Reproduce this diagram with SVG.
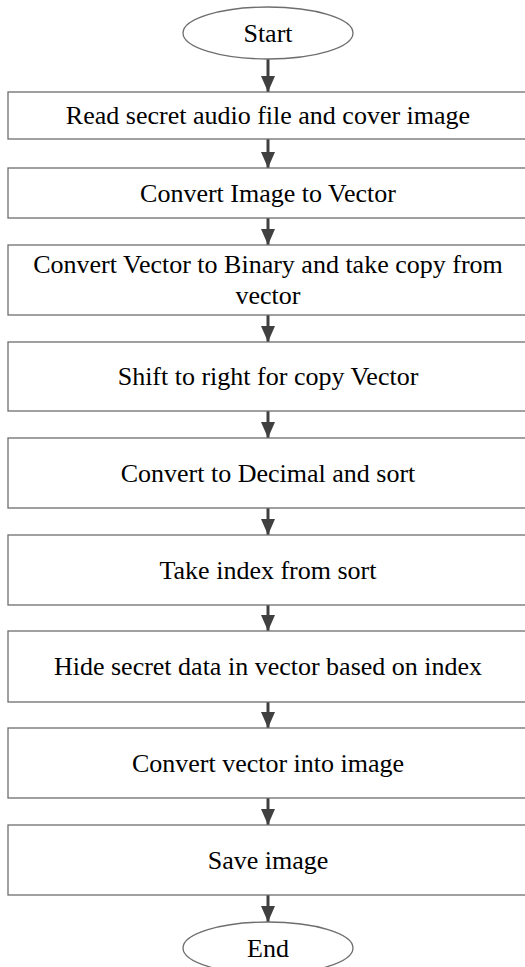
<svg xmlns="http://www.w3.org/2000/svg" width="525" height="967" viewBox="0 0 525 967">
<defs>
<style>
.box{fill:#fff;stroke:#6e6e6e;stroke-width:1.3}
.t{font-family:"Liberation Serif","Times New Roman",serif;font-size:26px;fill:#000;text-anchor:middle}
.c{stroke:#404040;stroke-width:3;fill:none}
</style>
<marker id="a2" markerWidth="16" markerHeight="14" refX="16" refY="7" orient="auto" markerUnits="userSpaceOnUse" viewBox="0 0 16 14">
<path d="M0,0 L16,7 L0,14 Z" fill="#404040"/>
</marker>
</defs>
<rect width="525" height="967" fill="#fff"/>
<g id="connectors">
<line class="c" x1="268" y1="59" x2="268" y2="92" marker-end="url(#a2)"/>
<line class="c" x1="268" y1="139" x2="268" y2="168" marker-end="url(#a2)"/>
<line class="c" x1="268" y1="218" x2="268" y2="245" marker-end="url(#a2)"/>
<line class="c" x1="268" y1="315" x2="268" y2="342" marker-end="url(#a2)"/>
<line class="c" x1="268" y1="411" x2="268" y2="438" marker-end="url(#a2)"/>
<line class="c" x1="268" y1="508" x2="268" y2="535" marker-end="url(#a2)"/>
<line class="c" x1="268" y1="605" x2="268" y2="631" marker-end="url(#a2)"/>
<line class="c" x1="268" y1="702" x2="268" y2="728" marker-end="url(#a2)"/>
<line class="c" x1="268" y1="798" x2="268" y2="825" marker-end="url(#a2)"/>
<line class="c" x1="268" y1="895" x2="268" y2="922" marker-end="url(#a2)"/>
</g>
<g id="start">
<ellipse class="box" cx="268" cy="33" rx="85" ry="26"/>
<text class="t" x="268" y="42">Start</text>
</g>
<g id="n1">
<rect class="box" x="8" y="92" width="530" height="47"/>
<text class="t" x="268" y="124">Read secret audio file and cover image</text>
</g>
<g id="n2">
<rect class="box" x="8" y="168" width="530" height="50"/>
<text class="t" x="268" y="202">Convert Image to Vector</text>
</g>
<g id="n3">
<rect class="box" x="8" y="245" width="530" height="70"/>
<text class="t" x="268" y="273">Convert Vector to Binary and take copy from</text>
<text class="t" x="268" y="304">vector</text>
</g>
<g id="n4">
<rect class="box" x="8" y="342" width="530" height="69"/>
<text class="t" x="268" y="385">Shift to right for copy Vector</text>
</g>
<g id="n5">
<rect class="box" x="8" y="438" width="530" height="70"/>
<text class="t" x="268" y="482">Convert to Decimal and sort</text>
</g>
<g id="n6">
<rect class="box" x="8" y="535" width="530" height="70"/>
<text class="t" x="268" y="579">Take index from sort</text>
</g>
<g id="n7">
<rect class="box" x="8" y="631" width="530" height="71"/>
<text class="t" x="268" y="675">Hide secret data in vector based on index</text>
</g>
<g id="n8">
<rect class="box" x="8" y="728" width="530" height="70"/>
<text class="t" x="268" y="772">Convert vector into image</text>
</g>
<g id="n9">
<rect class="box" x="8" y="825" width="530" height="70"/>
<text class="t" x="268" y="869">Save image</text>
</g>
<g id="end">
<ellipse class="box" cx="268" cy="948" rx="85" ry="26"/>
<text class="t" x="268" y="957">End</text>
</g>
</svg>
